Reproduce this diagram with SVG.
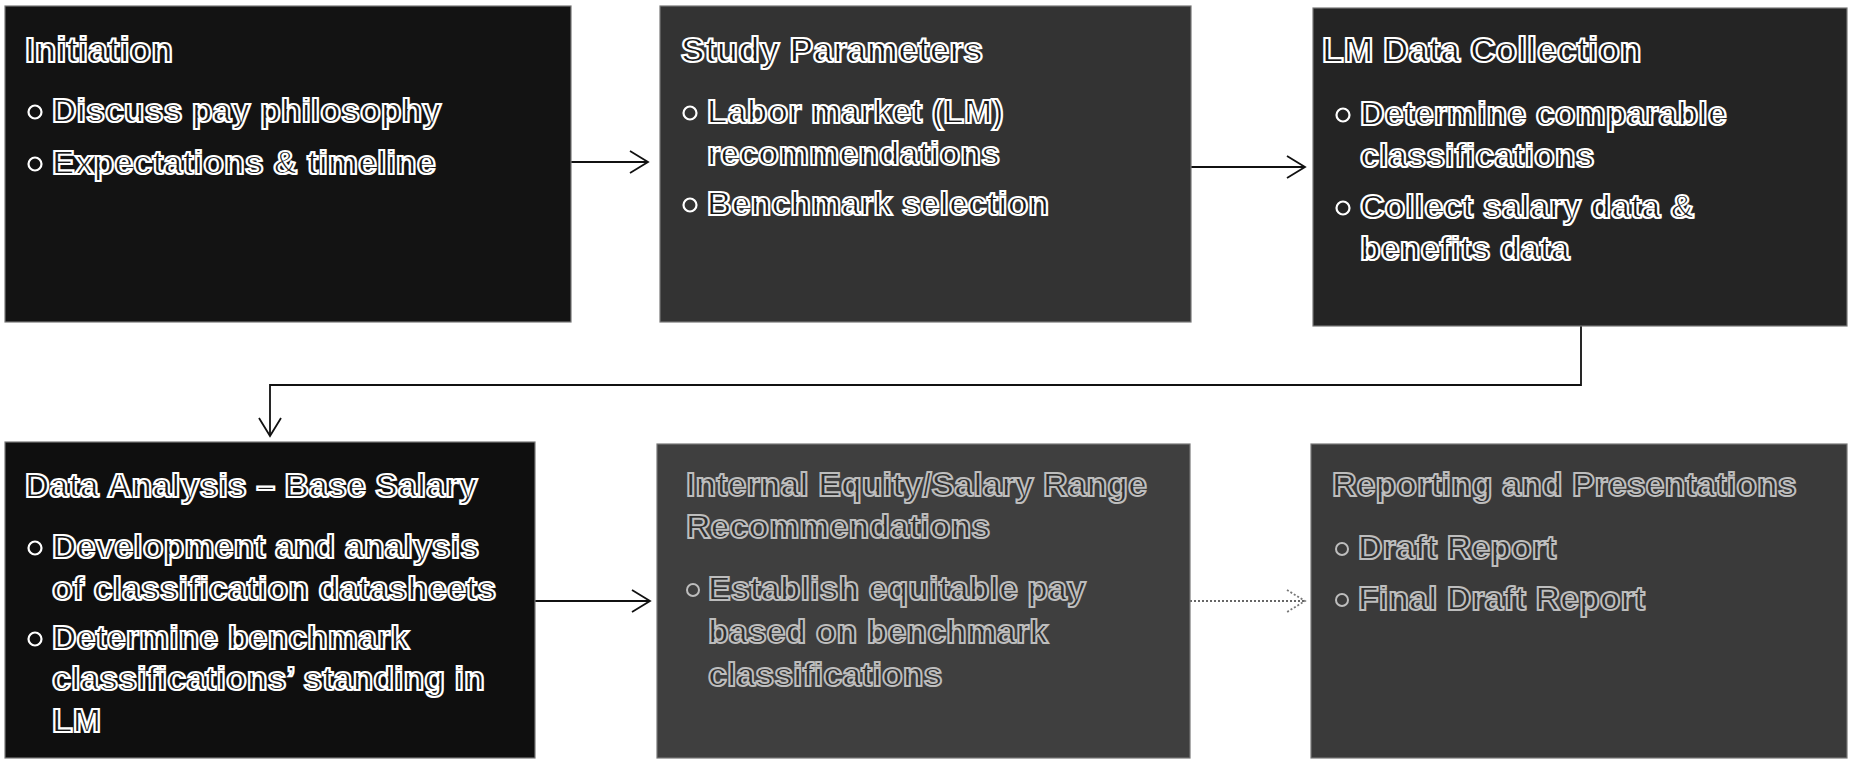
<svg xmlns="http://www.w3.org/2000/svg" width="1853" height="760" viewBox="0 0 1853 760">
<style>
.box{stroke:#777;stroke-width:1.2}
.t{font-family:"Liberation Sans",Arial,sans-serif;font-weight:bold;font-size:34px;fill:#161616;stroke:#fff;stroke-width:2.2}
.h{font-size:35.5px}
.g{font-family:"Liberation Sans",Arial,sans-serif;font-weight:bold;font-size:34px;fill:#2e2e2e;stroke:#bdbdbd;stroke-width:2}
.b{fill:none;stroke:#fff;stroke-width:2.2}
.bg{fill:none;stroke:#bdbdbd;stroke-width:2}
.c{fill:none;stroke:#111;stroke-width:1.8}
.d{fill:none;stroke:#666;stroke-width:2;stroke-dasharray:2 2}
</style>
<defs>
<marker id="ah" markerUnits="userSpaceOnUse" markerWidth="24" markerHeight="26" refX="20" refY="12" orient="auto">
<path d="M2,1 L20,12 L2,23" fill="none" stroke="#111" stroke-width="1.8"/>
</marker>
<marker id="ahd" markerUnits="userSpaceOnUse" markerWidth="24" markerHeight="26" refX="20" refY="12" orient="auto">
<path d="M2,1 L20,12 L2,23" fill="none" stroke="#777" stroke-width="1.8" stroke-dasharray="2 2"/>
</marker>
</defs>
<rect width="1853" height="760" fill="#fff"/>

<g id="connectors">
<line class="c" x1="571" y1="162" x2="648" y2="162" marker-end="url(#ah)"/>
<line class="c" x1="1191" y1="167" x2="1305" y2="167" marker-end="url(#ah)"/>
<polyline class="c" points="1581,326 1581,385 270,385 270,436" marker-end="url(#ah)"/>
<line class="c" x1="535" y1="601" x2="650" y2="601" marker-end="url(#ah)"/>
<line class="d" x1="1190" y1="601" x2="1305" y2="601" marker-end="url(#ahd)"/>
</g>

<g id="initiation">
<rect class="box" x="5" y="6" width="566" height="316" fill="#131313"/>
<text class="t h" x="25" y="62">Initiation</text>
<circle class="b" cx="35" cy="112" r="6.5"/>
<text class="t" x="52" y="122">Discuss pay philosophy</text>
<circle class="b" cx="35" cy="164" r="6.5"/>
<text class="t" x="52" y="174">Expectations &amp; timeline</text>
</g>

<g id="study-parameters">
<rect class="box" x="660" y="6" width="531" height="316" fill="#333"/>
<text class="t h" x="681" y="62">Study Parameters</text>
<circle class="b" cx="690" cy="113" r="6.5"/>
<text class="t" x="707" y="123">Labor market (LM)</text>
<text class="t" x="707" y="165">recommendations</text>
<circle class="b" cx="690" cy="205" r="6.5"/>
<text class="t" x="707" y="215">Benchmark selection</text>
</g>

<g id="lm-data-collection">
<rect class="box" x="1313" y="8" width="534" height="318" fill="#242424"/>
<text class="t h" x="1322" y="62">LM Data Collection</text>
<circle class="b" cx="1343" cy="115" r="6.5"/>
<text class="t" x="1360" y="125">Determine comparable</text>
<text class="t" x="1360" y="167">classifications</text>
<circle class="b" cx="1343" cy="208" r="6.5"/>
<text class="t" x="1360" y="218">Collect salary data &amp;</text>
<text class="t" x="1360" y="260">benefits data</text>
</g>

<g id="data-analysis">
<rect class="box" x="5" y="442" width="530" height="316" fill="#0f0f0f"/>
<text class="t" x="25" y="497">Data Analysis – Base Salary</text>
<circle class="b" cx="35" cy="548" r="6.5"/>
<text class="t" x="52" y="558">Development and analysis</text>
<text class="t" x="52" y="600">of classification datasheets</text>
<circle class="b" cx="35" cy="639" r="6.5"/>
<text class="t" x="52" y="649">Determine benchmark</text>
<text class="t" x="52" y="690">classifications’ standing in</text>
<text class="t" x="52" y="732">LM</text>
</g>

<g id="internal-equity">
<rect class="box" x="657" y="444" width="533" height="314" fill="#3f3f3f"/>
<text class="g" x="686" y="496">Internal Equity/Salary Range</text>
<text class="g" x="686" y="538">Recommendations</text>
<circle class="bg" cx="693" cy="590" r="6"/>
<text class="g" x="708" y="600">Establish equitable pay</text>
<text class="g" x="708" y="643">based on benchmark</text>
<text class="g" x="708" y="686">classifications</text>
</g>

<g id="reporting">
<rect class="box" x="1311" y="444" width="536" height="314" fill="#3a3a3a"/>
<text class="g" x="1332" y="496">Reporting and Presentations</text>
<circle class="bg" cx="1342" cy="549" r="6"/>
<text class="g" x="1358" y="559">Draft Report</text>
<circle class="bg" cx="1342" cy="600" r="6"/>
<text class="g" x="1358" y="610">Final Draft Report</text>
</g>
</svg>
